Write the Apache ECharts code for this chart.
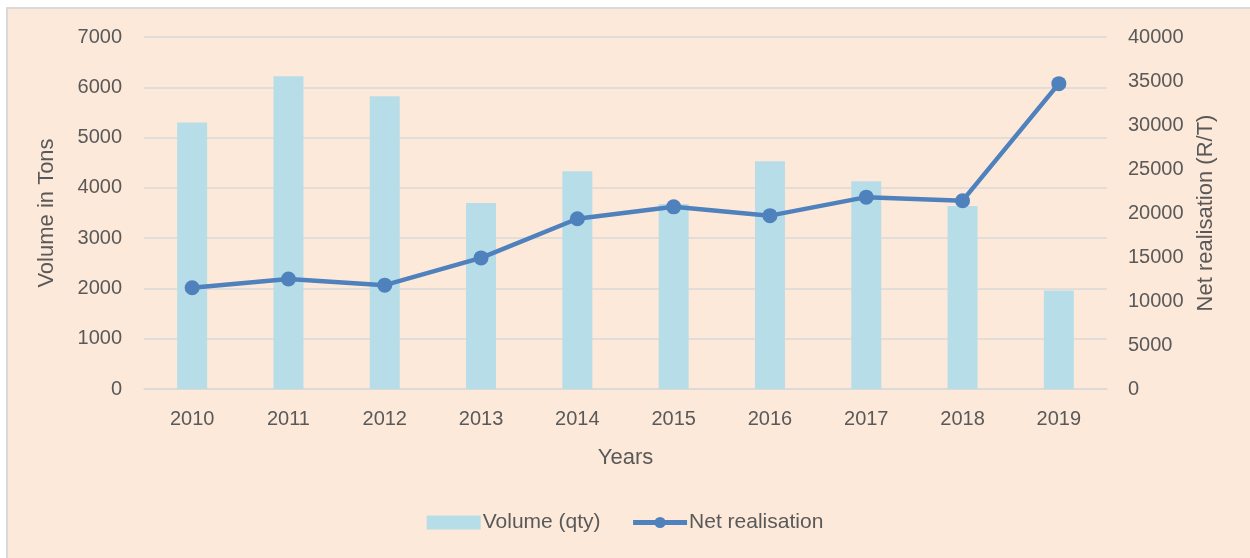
<!DOCTYPE html>
<html>
<head>
<meta charset="utf-8">
<script src="https://cdn.jsdelivr.net/npm/echarts@6/dist/echarts.min.js"></script>
<style>
  html, body { margin: 0; padding: 0; background: #fff; }
  #main { width: 1250px; height: 558px; }
</style>
</head>
<body>
<div id="main"></div>
<script>
const years = ["2010", "2011", "2012", "2013", "2014", "2015", "2016", "2017", "2018", "2019"];
const volume = [5300, 6220, 5820, 3700, 4330, 3680, 4530, 4130, 3640, 1960];
const netRealisation = [11500, 12500, 11800, 14900, 19350, 20700, 19700, 21800, 21400, 34700];

const font = "'Liberation Sans', Arial, sans-serif";
const textColor = "#595959";
const plain = (v) => String(v);

const chart = echarts.init(document.getElementById("main"));

const option = {
  animation: false,
  backgroundColor: "#fff",
  textStyle: { fontFamily: font },
  graphic: [
    {
      type: "rect",
      z: -10,
      shape: { x: 7, y: 8, width: 1260, height: 570 },
      style: { fill: "#FDE9D9", stroke: "#D9D9D9", lineWidth: 2 },
    },
  ],
  grid: { left: 144, right: 143, top: 37, bottom: 169 },
  legend: {
    bottom: 20,
    left: "center",
    itemWidth: 54,
    itemHeight: 14,
    itemGap: 30,
    textStyle: { fontFamily: font, fontSize: 21, color: textColor, padding: [0, 0, 0, -3] },
    data: [
      { name: "Volume (qty)", icon: "rect" },
      { name: "Net realisation", lineStyle: { width: 5 } },
    ],
  },
  xAxis: {
    type: "category",
    data: years,
    name: "Years",
    nameLocation: "middle",
    nameGap: 58,
    nameTextStyle: { fontFamily: font, fontSize: 22, color: textColor },
    axisLine: { lineStyle: { color: "#D9D9D9", width: 1.5 } },
    axisTick: { show: false },
    axisLabel: { fontFamily: font, fontSize: 20, color: textColor, margin: 20 },
  },
  yAxis: [
    {
      type: "value",
      min: 0,
      max: 7000,
      interval: 1000,
      name: "Volume in Tons",
      nameLocation: "middle",
      nameGap: 86,
      nameTextStyle: { fontFamily: font, fontSize: 22, color: textColor },
      axisLine: { show: false },
      axisTick: { show: false },
      axisLabel: { fontFamily: font, fontSize: 20, color: textColor, margin: 22, formatter: plain },
      splitLine: { lineStyle: { color: "#D9D9D9", width: 1.5 } },
    },
    {
      type: "value",
      min: 0,
      max: 40000,
      interval: 5000,
      name: "Net realisation (R/T)",
      nameLocation: "middle",
      nameGap: 78,
      nameTextStyle: { fontFamily: font, fontSize: 22, color: textColor },
      axisLine: { show: false },
      axisTick: { show: false },
      axisLabel: { fontFamily: font, fontSize: 20, color: textColor, margin: 21, formatter: plain },
      splitLine: { show: false },
    },
  ],
  series: [
    {
      name: "Volume (qty)",
      type: "bar",
      data: volume,
      barWidth: 30,
      itemStyle: { color: "#B7DEE8" },
    },
    {
      name: "Net realisation",
      type: "line",
      yAxisIndex: 1,
      data: netRealisation,
      symbol: "circle",
      symbolSize: 15,
      lineStyle: { color: "#4F81BD", width: 4.5 },
      itemStyle: { color: "#4F81BD" },
    },
  ],
};

chart.setOption(option);
</script>
</body>
</html>
